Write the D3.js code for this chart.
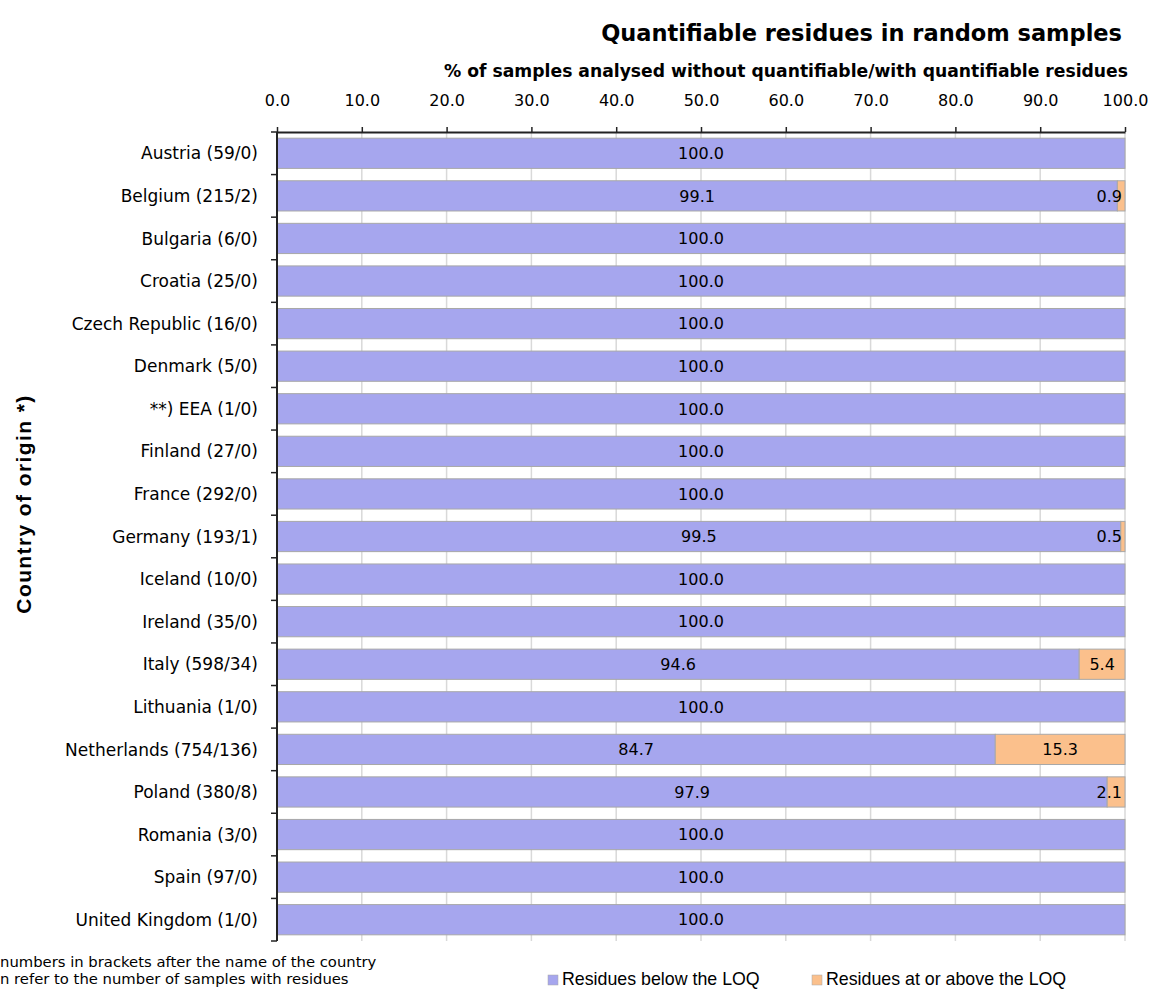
<!DOCTYPE html>
<html><head><meta charset="utf-8">
<script src="https://cdn.jsdelivr.net/npm/d3@7"></script>
<style>
body{margin:0;background:#fff;}
svg{display:block;}
</style></head><body>
<svg id="c" width="1149" height="990"></svg>
<script>
const categories = ["Austria (59/0)","Belgium (215/2)","Bulgaria (6/0)","Croatia (25/0)","Czech Republic (16/0)","Denmark (5/0)","**) EEA (1/0)","Finland (27/0)","France (292/0)","Germany (193/1)","Iceland (10/0)","Ireland (35/0)","Italy (598/34)","Lithuania (1/0)","Netherlands (754/136)","Poland (380/8)","Romania (3/0)","Spain (97/0)","United Kingdom (1/0)"];
const belowLOQ = [100.0,99.1,100.0,100.0,100.0,100.0,100.0,100.0,100.0,99.5,100.0,100.0,94.6,100.0,84.7,97.9,100.0,100.0,100.0];
const aboveLOQ = [0,0.9,0,0,0,0,0,0,0,0.5,0,0,5.4,0,15.3,2.1,0,0,0];
const xTicks = [0,10,20,30,40,50,60,70,80,90,100];
const seriesNames = ["Residues below the LOQ","Residues at or above the LOQ"];
const colors = ["#A6A6EE","#FBC08C"];
const title = "Quantifiable residues in random samples";
const subtitle = "% of samples analysed without quantifiable/with quantifiable residues";
const yTitle = "Country of origin *)";
const footnote = ["numbers in brackets after the name of the country","n refer to the number of samples with residues"];

const font = "'DejaVu Sans', Verdana, sans-serif";
const arial = "'Liberation Sans', Arial, sans-serif";
const svg = d3.select("#c");
const L = 277, R = 1125, T = 132, B = 941;
const x = d3.scaleLinear().domain([0,100]).range([L,R]);
const y = d3.scaleBand().domain(categories).range([T,B]).paddingInner(0.29).paddingOuter(0.145);
const yb = d3.scaleBand().domain(categories).range([T,B]);

// gridlines
svg.append("g").selectAll("line").data(xTicks.slice(1)).join("line")
  .attr("x1",d=>x(d)).attr("x2",d=>x(d)).attr("y1",T).attr("y2",B)
  .attr("stroke","#d9d9d9").attr("stroke-width",1.5);

const stack = categories.map((c,i)=>({c, segs:[{s:0,v:belowLOQ[i],k:0},{s:belowLOQ[i],v:aboveLOQ[i],k:1}]}));
const rows = svg.append("g").selectAll("g").data(stack).join("g");
rows.selectAll("rect").data(d=>d.segs.filter(s=>s.v>0).map(s=>({...s,c:d.c}))).join("rect")
  .attr("x",d=>x(d.s)).attr("width",d=>x(d.s+d.v)-x(d.s))
  .attr("y",d=>y(d.c)).attr("height",y.bandwidth())
  .attr("fill",d=>colors[d.k]).attr("stroke","#a8a8a8").attr("stroke-width",1);

// value labels
rows.each(function(d){
  const g = d3.select(this);
  d.segs.filter(s=>s.v>0).forEach(s=>{
    const t = g.append("text").text(s.v.toFixed(1))
      .attr("y",y(d.c)+y.bandwidth()/2).attr("dy","0.36em")
      .attr("text-anchor","middle").attr("font-family",font).attr("font-size",16).attr("fill","#000");
    const w = t.node().getComputedTextLength();
    let cx = x(s.s+s.v/2);
    if (cx + w/2 > R - 3) cx = R - 3 - w/2;
    t.attr("x",cx);
  });
});

// axes
const xa = d3.axisTop(x).tickValues(xTicks).tickFormat(d=>d.toFixed(1)).tickSize(5).tickSizeOuter(0);
const gx = svg.append("g").attr("transform",`translate(0,${T})`).call(xa);
gx.select(".domain").attr("stroke","#222").attr("stroke-width",2);
gx.selectAll(".tick line").attr("stroke","#222").attr("stroke-width",1.5);
gx.selectAll(".tick text").attr("font-family",font).attr("font-size",16).attr("fill","#000").attr("dy",0).attr("y",-26);

const gy = svg.append("g").attr("transform",`translate(${L},0)`);
gy.append("line").attr("x1",0).attr("x2",0).attr("y1",T).attr("y2",B).attr("stroke","#222").attr("stroke-width",2);
const bounds = categories.map(c=>yb(c)).concat([B]);
gy.selectAll("line.t").data(bounds).join("line").attr("class","t")
  .attr("x1",-6).attr("x2",0).attr("y1",d=>d).attr("y2",d=>d).attr("stroke","#222").attr("stroke-width",1.5);
gy.selectAll("text").data(categories).join("text")
  .attr("x",-19).attr("y",d=>y(d)+y.bandwidth()/2).attr("dy","0.36em")
  .attr("text-anchor","end").attr("font-family",font).attr("font-size",17).attr("fill","#000").text(d=>d);

// titles
svg.append("text").attr("x",1122).attr("y",41).attr("text-anchor","end")
  .attr("font-family",font).attr("font-weight","bold").attr("font-size",22.5).text(title);
svg.append("text").attr("x",1128).attr("y",77).attr("text-anchor","end")
  .attr("font-family",font).attr("font-weight","bold").attr("font-size",17.2).text(subtitle);
svg.append("text").attr("transform","translate(31,504) rotate(-90)").attr("text-anchor","middle")
  .attr("font-family",arial).attr("font-weight","bold").attr("font-size",21).attr("letter-spacing",1.4).text(yTitle);

// footnote
svg.selectAll("text.fn").data(footnote).join("text").attr("class","fn")
  .attr("x",0).attr("y",(d,i)=>967+i*17).attr("font-family",font).attr("font-size",14.8).text(d=>d);

// legend
const lg = svg.append("g");
[548,812].forEach((lx,i)=>{
  lg.append("rect").attr("x",lx).attr("y",975).attr("width",10).attr("height",10).attr("fill",colors[i]).attr("stroke","#a8a8a8").attr("stroke-width",0.5);
  lg.append("text").attr("x",lx+14).attr("y",985).attr("font-family",arial).attr("font-size",17.8).text(seriesNames[i]);
});
</script></body></html>
